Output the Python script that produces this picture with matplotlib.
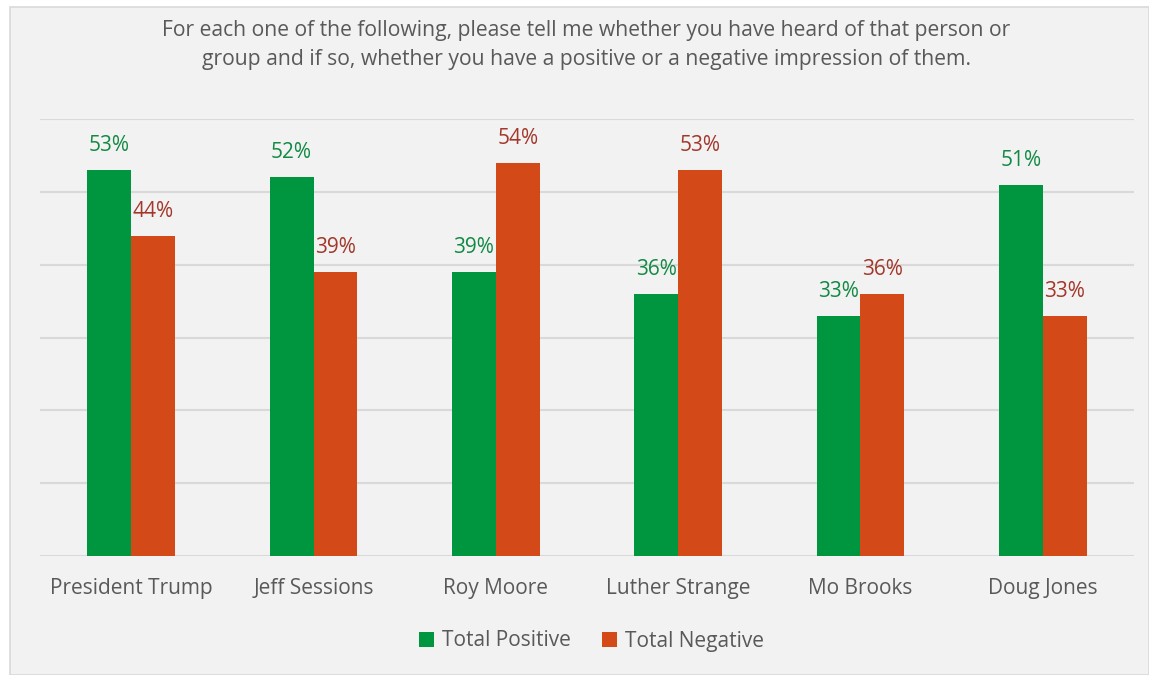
import matplotlib.pyplot as plt
from matplotlib.patches import Rectangle
import numpy as np

# survey values (percent)
people = ['President Trump', 'Jeff Sessions', 'Roy Moore', 'Luther Strange', 'Mo Brooks', 'Doug Jones']
positive = [53, 52, 39, 36, 33, 51]
negative = [44, 39, 54, 53, 36, 33]
series_names = ['Total Positive', 'Total Negative']

title = ('For each one of the following, please tell me whether you have heard of that person or\n'
         'group and if so, whether you have a positive or a negative impression of them.')

green = '#00953f'
orange = '#d34a18'
green_txt = '#128a44'
orange_txt = '#a3372a'
grey_txt = '#595959'
bg = '#f2f2f2'

plt.rcParams['font.family'] = ['Open Sans', 'DejaVu Sans']

fig = plt.figure(figsize=(11.49, 6.75), dpi=100, facecolor='white')
# chart area with its thin border
fig.patches.append(Rectangle((10 / 1149, 0), 1 - 10 / 1149, 1 - 7 / 675,
                             transform=fig.transFigure, facecolor=bg,
                             edgecolor='#d9d9d9', linewidth=1.2, zorder=-1))

ax = fig.add_axes([40 / 1149, 1 - 556 / 675, 1094 / 1149, (556 - 119) / 675])
ax.set_facecolor(bg)
x = np.arange(len(people))
w = 0.24
b1 = ax.bar(x - w / 2, positive, w, color=green, label=series_names[0], zorder=2)
b2 = ax.bar(x + w / 2, negative, w, color=orange, label=series_names[1], zorder=2)

for rect, v in zip(b1, positive):
    ax.text(rect.get_x() + rect.get_width() / 2, v + 1.9, f'{v}%', ha='center', va='bottom',
            color=green_txt, fontsize=15)
for rect, v in zip(b2, negative):
    ax.text(rect.get_x() + rect.get_width() / 2, v + 1.9, f'{v}%', ha='center', va='bottom',
            color=orange_txt, fontsize=15)

ax.set_xlim(-0.5, len(people) - 0.5)
ax.set_ylim(0, 60)
ax.set_yticks(np.arange(0, 61, 10))
ax.yaxis.grid(True, color='#d9d9d9', linewidth=1.5, zorder=0)
ax.tick_params(axis='y', left=False, labelleft=False)
ax.tick_params(axis='x', length=0, pad=16, labelsize=15, labelcolor=grey_txt)
ax.set_xticks(x)
ax.set_xticklabels(people)
for s in ax.spines.values():
    s.set_visible(False)

fig.text(586 / 1149, 1 - 45 / 675, title, ha='center', va='center', fontsize=15.2,
         color=grey_txt, linespacing=1.45)

fig.legend(handles=[b1, b2], loc='center', bbox_to_anchor=(0.515, 1 - 641 / 675), ncol=2,
           frameon=False, fontsize=15, labelcolor=grey_txt, handlelength=0.7,
           handleheight=0.7, handletextpad=0.4, columnspacing=1.5)

fig.savefig('out.png', dpi=100, facecolor=fig.get_facecolor())
